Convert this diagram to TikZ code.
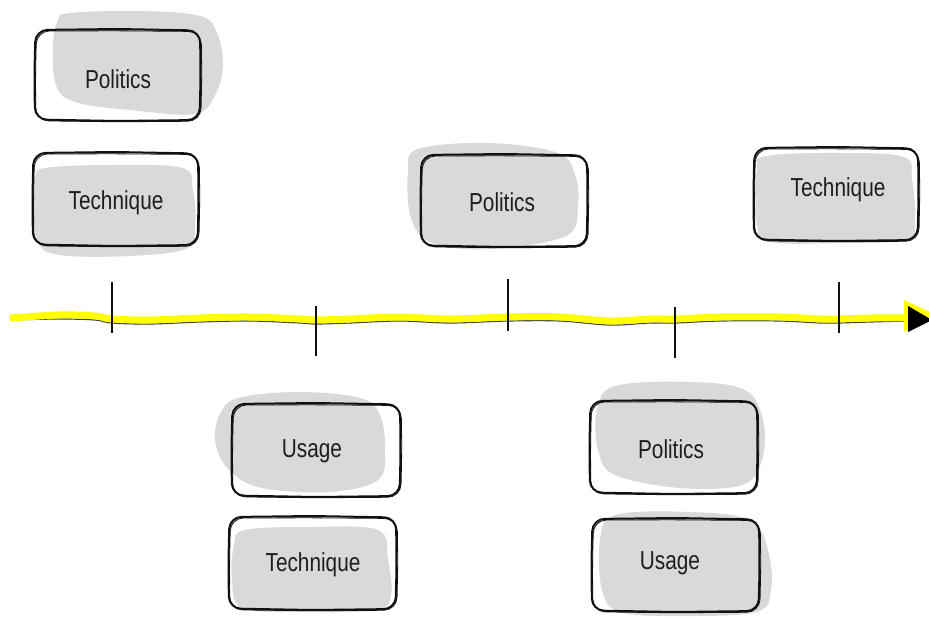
\documentclass[tikz,border=0pt]{standalone}
\usepackage{fontspec}
\setmainfont{Liberation Sans}[FakeStretch=0.8]
\usetikzlibrary{calc}
\definecolor{blobgray}{HTML}{D9D9D9}
\definecolor{inkblack}{HTML}{111111}
\definecolor{textgray}{HTML}{1E1E1E}
\definecolor{hiyellow}{HTML}{FFFF00}

\tikzset{
  blob/.style={fill=blobgray, draw=none},
  card line/.style={draw=inkblack, line width=2pt, rounded corners=12pt, line join=round},
  card trace/.style={draw=inkblack, line width=0.8pt, rounded corners=13pt, line join=round},
  card text/.style={anchor=base, text=textgray, inner sep=0pt,
    font=\fontsize{26}{30}\selectfont},
  tick/.style={draw=inkblack, line width=2pt},
}

% hand-drawn rounded card outline between (x1,y1) and (x2,y2)
\newcommand\sketchcard[4]{%
  \draw[card line] ({(#1+#3)/2},#2-1) -- (#3,#2+0.5) -- (#3+0.6,{(#2+#4)/2})
     -- (#3-0.4,#4) -- ({(#1+#3)/2},#4+1) -- (#1,#4-0.5)
     -- (#1-0.6,{(#2+#4)/2}) -- (#1+0.5,#2) -- cycle;
  \draw[card trace] ({(#1+#3)/2},#2+0.8) -- (#3+1.2,#2+1.5) -- (#3+1.8,{(#2+#4)/2})
     -- (#3+0.8,#4+1.2) -- ({(#1+#3)/2},#4+1.8) -- (#1+0.8,#4+0.8)
     -- (#1+0.5,{(#2+#4)/2}) -- (#1+1.5,#2+1) -- cycle;
}

\begin{document}
\begin{tikzpicture}[x=1pt, y=-1pt]
\useasboundingbox (0,0) rectangle (929,619);
\fill[white] (0,0) rectangle (929,619);

% ---------- grey shading behind the cards ----------
\fill[blob] plot[smooth cycle, tension=0.6] coordinates {(70,13) (140,11) (200,16) (217,33) (223,65) (215,95) (195,114) (130,110) (75,102) (56,85) (53,45) (58,20)};
\fill[blob] plot[smooth cycle, tension=0.6] coordinates {(45,168) (110,165) (182,168) (193,190) (195,230) (186,249) (130,256) (60,255) (37,241) (33,200) (35,178)};
\fill[blob] plot[smooth cycle, tension=0.6] coordinates {(418,149) (490,143) (558,153) (575,175) (578,205) (566,236) (490,249) (432,243) (411,218) (408,172)};
\fill[blob] plot[smooth cycle, tension=0.6] coordinates {(766,156) (840,153) (904,157) (912,180) (915,220) (906,240) (840,243) (770,242) (757,225) (757,170)};
\fill[blob] plot[smooth cycle, tension=0.6] coordinates {(242,397) (300,392) (360,398) (380,415) (385,450) (378,480) (330,492) (262,488) (229,470) (215,440) (222,410)};
\fill[blob] plot[smooth cycle, tension=0.6] coordinates {(245,530) (310,527) (378,530) (388,560) (391,595) (376,610) (300,612) (242,608) (232,580) (234,545)};
\fill[blob] plot[smooth cycle, tension=0.6] coordinates {(615,386) (690,382) (745,390) (763,420) (762,460) (742,485) (680,488) (615,475) (598,450) (597,410)};
\fill[blob] plot[smooth cycle, tension=0.6] coordinates {(615,515) (690,512) (750,520) (768,550) (771,590) (756,612) (680,616) (620,612) (602,590) (600,540)};

% ---------- card outlines ----------
\sketchcard{35}{30}{200}{120}
\sketchcard{33}{153}{198}{245}
\sketchcard{421}{155}{587}{246}
\sketchcard{754}{148}{918}{240}
\sketchcard{232}{404}{400}{496}
\sketchcard{229}{517}{396}{609}
\sketchcard{590}{401}{757}{493}
\sketchcard{592}{519}{759}{611}

% ---------- card labels ----------
\node[card text] (p1) at (118,88)  {Politics};
\node[card text] (t1) at (116,209) {Technique};
\node[card text] (p2) at (502,211) {Politics};
\node[card text] (t3) at (838,196) {Technique};
\node[card text] (u1) at (312,457) {Usage};
\node[card text] (t2) at (313,571) {Technique};
\node[card text] (p3) at (671,458) {Politics};
\node[card text] (u2) at (670,569) {Usage};

% ---------- time line ----------
\coordinate (start) at (10,318);
\coordinate (head) at (908,318);
\draw[inkblack!80, line width=1.2pt] plot[smooth, tension=0.6] coordinates {(10,320) (60,319) (95,320) (112,323) (150,324) (200,322) (250,321) (300,323) (316,324) (350,323) (400,321) (450,323) (508,321) (560,321) (610,325) (650,323) (675,323) (720,321) (780,321) (820,323) (838,323) (870,322) (908,321)};
\draw[hiyellow, line width=7pt] plot[smooth, tension=0.6] coordinates {(start) (60,315) (95,316) (112,319) (150,320) (200,318) (250,317) (300,319) (316,320) (350,319) (400,317) (450,319) (508,317) (560,317) (610,321) (650,319) (675,319) (720,317) (780,317) (820,319) (838,319) (870,318) (head)};
% arrowhead: yellow underlay offset up-left, black tip on top
\fill[hiyellow] ($(head)+(-4,-18)$) -- (934,314) -- ($(head)+(-4,14)$) -- cycle;
\fill[black] ($(head)+(0,-12)$) -- (932,320) -- ($(head)+(0,14)$) -- cycle;

% ---------- tick marks ----------
\draw[tick] (112,282) -- (112,333);
\draw[tick] (316,306) -- (316,356);
\draw[tick] (508,279) -- (508,331);
\draw[tick] (675,307) -- (675,358);
\draw[tick] (839,282) -- (839,333);
\end{tikzpicture}
\end{document}
